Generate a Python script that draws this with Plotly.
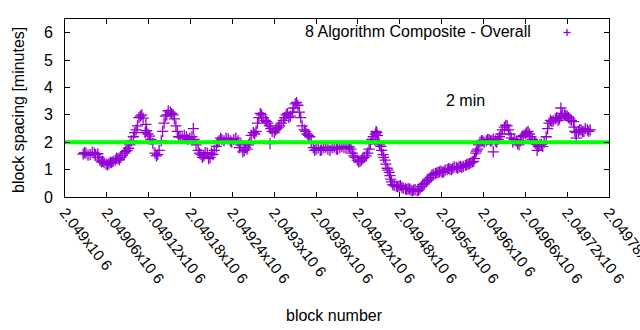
import plotly.graph_objects as go

BASE = 2049000
# block offsets (block number - 2049000) and block spacing in minutes
block_offset = [26, 30, 36, 42, 47, 50, 54, 59, 63, 67, 72, 76, 80, 85, 89, 93, 98, 102, 106, 110,
                115, 119, 123, 129, 133, 138, 142, 146, 151, 155, 159, 163, 168, 174, 179, 185, 191, 195, 199, 204,
                208, 212, 217, 221, 225, 231, 237, 242, 248, 252, 257, 261, 265, 270, 274, 278, 282, 287, 291, 295,
                300, 304, 308, 313, 317, 321, 326, 330, 334, 338, 343, 347, 351, 356, 360, 366, 371, 377, 383, 389,
                394, 400, 406, 410, 414, 419, 423, 427, 432, 436, 440, 445, 447, 450, 453, 456, 459, 462, 465, 467,
                470, 475, 479, 483, 488, 492, 496, 500, 505, 509, 513, 518, 522, 526, 531, 535, 539, 543, 548, 552,
                556, 561, 565, 569, 574, 578, 582, 586, 589, 592, 595, 599, 604, 608, 612, 617, 621, 625, 630, 634,
                638, 642, 647, 651, 655, 660, 664, 668, 673, 677, 681, 685, 690, 694, 698, 703, 707, 711, 716, 720,
                724, 729, 731, 736, 740, 744, 749, 753]
spacing = [1.57, 1.60, 1.55, 1.60, 1.58, 1.35, 1.30, 1.20, 1.22, 1.25, 1.35, 1.40, 1.45, 1.60, 1.70, 1.90, 2.20, 2.45, 2.90, 3.00,
           2.35, 2.30, 2.10, 1.60, 1.55, 2.05, 2.70, 3.00, 3.10, 3.00, 2.60, 2.20, 2.15, 2.20, 2.15, 2.10, 1.70, 1.55, 1.50, 1.60,
           1.45, 1.55, 1.85, 2.05, 2.10, 2.15, 2.05, 2.10, 2.05, 1.90, 1.70, 1.75, 2.00, 2.35, 2.40, 2.90, 3.00, 2.80, 2.70, 2.50,
           2.35, 2.50, 2.60, 2.80, 3.00, 2.90, 3.10, 3.40, 3.35, 2.90, 2.45, 2.30, 2.20, 1.80, 1.75, 1.70, 1.80, 1.75, 1.80, 1.75,
           1.80, 1.80, 1.85, 1.75, 1.50, 1.35, 1.30, 1.40, 1.50, 1.75, 2.10, 2.30, 2.35, 2.00, 1.85, 1.55, 1.35, 1.05, 0.90, 0.65,
           0.45, 0.40, 0.40, 0.35, 0.30, 0.30, 0.25, 0.25, 0.22, 0.30, 0.45, 0.55, 0.65, 0.80, 0.85, 0.90, 0.95, 0.92, 1.00, 1.02,
           1.05, 1.08, 1.10, 1.08, 1.15, 1.20, 1.25, 1.30, 1.60, 1.75, 2.00, 2.05, 2.05, 2.10, 2.05, 2.05, 2.10, 2.30, 2.55, 2.60,
           2.30, 2.00, 2.05, 1.90, 2.20, 2.30, 2.40, 2.20, 2.00, 1.90, 1.90, 1.85, 2.20, 2.70, 2.75, 2.85, 2.80, 2.95, 3.00, 2.95,
           2.85, 2.75, 2.40, 2.40, 2.45, 2.40, 2.45, 2.45]

# second set of readings between the first ones (the scatter spread of the band)
block_offset_b = [28, 33, 39, 44, 48, 52, 56, 61, 65, 69, 74, 78, 82, 87, 91, 95, 100, 104, 108, 112,
                  117, 121, 126, 131, 135, 140, 144, 148, 153, 157, 161, 165, 171, 176, 182, 188, 193, 197, 201, 206,
                  210, 214, 219, 223, 228, 234, 239, 245, 250, 255, 259, 263, 267, 272, 276, 280, 284, 289, 293, 297,
                  302, 306, 310, 315, 319, 323, 328, 332, 336, 340, 345, 349, 353, 358, 363, 368, 374, 380, 386, 391,
                  397, 403, 408, 412, 416, 421, 425, 429, 434, 438, 442, 446, 448, 451, 454, 457, 460, 463, 466, 468,
                  472, 477, 481, 485, 490, 494, 498, 502, 507, 511, 515, 520, 524, 528, 533, 537, 541, 545, 550, 554,
                  558, 563, 567, 571, 576, 580, 584, 587, 590, 593, 597, 601, 606, 610, 614, 619, 623, 627, 632, 636,
                  640, 644, 649, 653, 657, 662, 666, 670, 675, 679, 683, 687, 692, 696, 700, 705, 709, 713, 718, 722,
                  726, 730, 733, 738, 742, 746, 751,
                  116, 184, 294, 614, 711, 733, 677]
spacing_b = [1.62, 1.53, 1.63, 1.55, 1.45, 1.28, 1.25, 1.17, 1.27, 1.30, 1.42, 1.36, 1.52, 1.66, 1.78, 2.05, 2.35, 2.60, 2.95, 2.88,
             2.42, 2.22, 1.95, 1.50, 1.70, 2.40, 2.95, 3.15, 3.05, 2.85, 2.40, 2.20, 2.25, 2.10, 2.20, 1.90, 1.60, 1.45, 1.62, 1.40,
             1.60, 1.70, 2.00, 2.15, 2.05, 2.12, 2.00, 2.15, 1.80, 1.65, 1.80, 1.90, 2.25, 2.30, 2.70, 3.05, 2.90, 2.75, 2.60, 2.40,
             2.45, 2.55, 2.70, 2.90, 3.05, 2.95, 3.25, 3.45, 3.10, 2.60, 2.40, 2.25, 2.00, 1.70, 1.78, 1.72, 1.82, 1.70, 1.82, 1.75,
             1.85, 1.78, 1.82, 1.60, 1.45, 1.28, 1.35, 1.45, 1.60, 1.95, 2.20, 2.40, 2.25, 1.90, 1.70, 1.45, 1.20, 0.98, 0.78, 0.55,
             0.42, 0.38, 0.42, 0.32, 0.28, 0.30, 0.22, 0.27, 0.25, 0.38, 0.50, 0.60, 0.72, 0.83, 0.88, 0.92, 0.90, 0.98, 1.04, 1.00,
             1.10, 1.05, 1.12, 1.12, 1.18, 1.22, 1.28, 1.40, 1.68, 1.90, 2.05, 2.00, 2.10, 2.05, 2.12, 2.00, 2.20, 2.45, 2.62, 2.45,
             2.15, 2.10, 1.95, 2.05, 2.25, 2.35, 2.30, 2.10, 1.95, 1.85, 1.92, 2.00, 2.50, 2.80, 2.78, 2.90, 2.85, 3.05, 2.98, 2.90,
             2.80, 2.55, 2.35, 2.45, 2.38, 2.50, 2.40,
             2.65, 2.50, 1.95, 1.65, 3.25, 2.15, 1.70]

target_minutes = 2
x_tick_offsets = [0, 60, 120, 180, 240, 300, 360, 420, 480, 540, 600, 660, 720, 780]
x_tick_labels = ["2.049x10 6", "2.04906x10 6", "2.04912x10 6", "2.04918x10 6", "2.04924x10 6",
                 "2.0493x10 6", "2.04936x10 6", "2.04942x10 6", "2.04948x10 6", "2.04954x10 6",
                 "2.0496x10 6", "2.04966x10 6", "2.04972x10 6", "2.04978x10 6"]
y_ticks = [0, 1, 2, 3, 4, 5, 6]

FONT = "Liberation Sans"
PURPLE = "#9400d3"
L, R, T, B = 65, 31, 19, 133
PW, PH = 640 - L - R, 330 - T - B

xs = [BASE + b for b in block_offset + block_offset_b]
ys = spacing + spacing_b
x_min, x_max = BASE + x_tick_offsets[0], BASE + x_tick_offsets[-1]

fig = go.Figure()
fig.add_trace(go.Scatter(
    x=xs, y=ys, mode="markers",
    marker=dict(symbol="cross-thin", size=8, line=dict(color=PURPLE, width=1.3), color=PURPLE),
    showlegend=False, hoverinfo="skip"))
fig.add_trace(go.Scatter(
    x=[x_min, x_max], y=[target_minutes, target_minutes], mode="lines",
    line=dict(color="#00ff00", width=4), showlegend=False, hoverinfo="skip"))

axis_common = dict(showline=True, linecolor="black", linewidth=1, mirror="allticks",
                   ticks="inside", ticklen=5, tickcolor="black", showgrid=False, zeroline=False,
                   automargin=False)

fig.update_xaxes(range=[x_min, x_max], tickmode="array",
                 tickvals=[BASE + t for t in x_tick_offsets], ticktext=x_tick_labels,
                 tickangle=52, ticklabeloverflow="allow",
                 tickfont=dict(family=FONT, size=15, color="black"),
                 **axis_common)
fig.update_yaxes(range=[0, 6.5], tickmode="array", tickvals=y_ticks,
                 ticktext=[str(v) for v in y_ticks], ticklabelstandoff=8,
                 tickfont=dict(family=FONT, size=16, color="black"),
                 **axis_common)


def px_x(p):
    return (p - L) / PW


def px_y(p):
    return (330 - B - p) / PH


# axis titles
fig.add_annotation(xref="paper", yref="paper", x=px_x(334), y=px_y(315), text="block number",
                   showarrow=False, xanchor="center", yanchor="middle",
                   font=dict(family=FONT, size=16, color="black"))
fig.add_annotation(xref="paper", yref="paper", x=px_x(18), y=px_y(110), text="block spacing [minutes]",
                   showarrow=False, xanchor="center", yanchor="middle", textangle=-90,
                   font=dict(family=FONT, size=16, color="black"))

# key
fig.add_annotation(xref="paper", yref="paper", x=px_x(533), y=px_y(32),
                   text="8 Algorithm Composite - Overall", showarrow=False,
                   xanchor="right", yanchor="middle", font=dict(family=FONT, size=16, color="black"))
kx, ky = px_x(567), px_y(32.5)
fig.add_shape(type="line", xref="paper", yref="paper", x0=kx - 3.5 / PW, x1=kx + 3.5 / PW, y0=ky, y1=ky,
              line=dict(color=PURPLE, width=1.3))
fig.add_shape(type="line", xref="paper", yref="paper", x0=kx, x1=kx, y0=ky - 3.5 / PH, y1=ky + 3.5 / PH,
              line=dict(color=PURPLE, width=1.3))

fig.add_annotation(x=BASE + 574, y=3.51, text="2 min", showarrow=False,
                   font=dict(family=FONT, size=16, color="black"))

fig.update_layout(width=640, height=330, margin=dict(l=L, r=R, t=T, b=B),
                  paper_bgcolor="white", plot_bgcolor="white")

fig.write_html("out.html")
